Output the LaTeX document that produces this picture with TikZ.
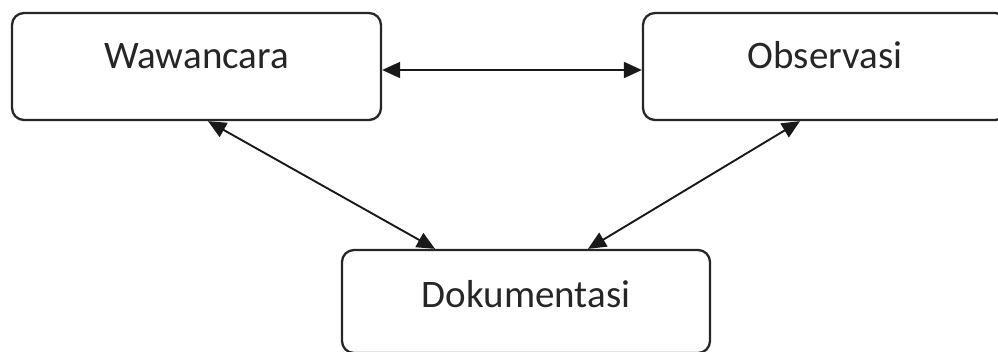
\documentclass[tikz,border=0pt]{standalone}
\usepackage{fontspec}
\setmainfont{Carlito}
\usetikzlibrary{arrows.meta}

\begin{document}
\begin{tikzpicture}[x=1pt,y=-1pt]
      \useasboundingbox (0,0) rectangle (998,351);
      \begin{scope}
        \tikzstyle{tbox} = [line width=2.3pt, draw=black!85, rounded corners=12pt, minimum height=107pt, inner sep=0pt, text height=25pt, text depth=22pt, font=\fontsize{39}{46}\selectfont, text=black!85, align=center]
        \tikzstyle{link} = [line width=1.9pt, draw=black!90, {Triangle[length=18pt,width=16pt]}-{Triangle[length=18pt,width=16pt]}]
        \node[tbox, minimum width=369pt] (b1) at (196.5,66.5) {Wawancara};
        \node[tbox, minimum width=364pt] (b2) at (825,66.5) {Observasi};
        \node[tbox, minimum width=368pt, minimum height=103pt, text depth=14pt] (b3) at (526,301.5) {Dokumentasi};
        \draw[link] ([yshift=-3.5pt]b1.east) -- ([yshift=-3.5pt]b2.west);
        \draw[link] ([xshift=11.5pt]b1.south) -- ([xshift=-91pt]b3.north);
        \draw[link] ([xshift=-25pt]b2.south) -- ([xshift=62pt]b3.north);
      \end{scope}
    \end{tikzpicture}
\end{document}
